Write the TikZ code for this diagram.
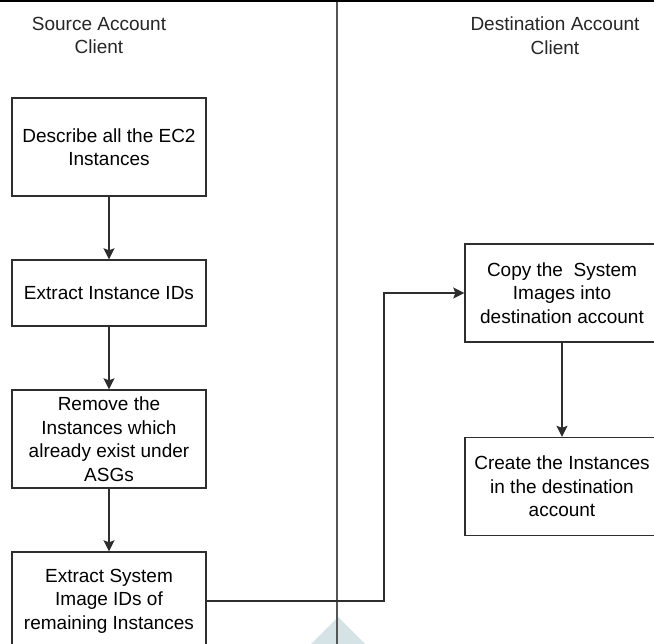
\documentclass[tikz,border=0pt]{standalone}
\usepackage{fontspec}
\setmainfont{Liberation Sans}
\usetikzlibrary{arrows.meta}
\definecolor{edge}{HTML}{2E2E2E}
\definecolor{divider}{HTML}{555555}
\definecolor{emblemtint}{HTML}{D6E3E6}
\tikzset{
  stepbox/.style={draw=edge, line width=1.4pt, rectangle, fill=white,
    minimum width=194pt, minimum height=98pt, align=center,
    font=\fontsize{19}{23.5}\selectfont, inner sep=0pt},
  shortbox/.style={stepbox, minimum height=66pt},
  title/.style={align=center, font=\fontsize{19}{23.5}\selectfont, text=black!85},
  flow/.style={draw=edge, line width=1.4pt,
    -{Stealth[length=11pt, width=11pt, inset=2pt]}},
  link/.style={draw=edge, line width=1.4pt}
}
\begin{document}
\begin{tikzpicture}[x=1pt, y=-1pt]
  \useasboundingbox (0,0) rectangle (654,644);
  \clip (0,0) rectangle (654,644);
  \fill[white] (0,0) rectangle (654,644);

  % faint emblem behind the lane divider
  \fill[emblemtint] (338,617) -- (380,659) -- (338,701) -- (296,659) -- cycle;

  % lane divider and top rule
  \coordinate (divtop) at (337,0);
  \coordinate (divbot) at (337,644);
  \draw[divider, line width=1.6pt] (divtop) -- (divbot);
  \coordinate (ruleL) at (0,0.8);
  \coordinate (ruleR) at (654,0.8);
  \draw[black, line width=2pt] (ruleL) -- (ruleR);

  % lane titles
  \node[title] (srctitle) at (99,35.5) {Source Account\\Client};
  \node[title] (dsttitle) at (555,35.5) {Destination Account\\Client};

  % source account steps
  \node[stepbox] (describe) at (109,147) {Describe all the EC2\\Instances};
  \node[shortbox] (extract) at (109,293) {Extract Instance IDs};
  \node[stepbox] (remove) at (109,439) {Remove the\\Instances which\\already exist under\\ASGs};
  \node[stepbox] (images) at (109,601) {Extract System\\Image IDs of\\remaining Instances};

  % destination account steps
  \node[stepbox] (copy) at (562,293) {Copy the~ System\\Images into\\destination account};
  \node[stepbox] (create) at (562,486.5) {Create the Instances\\in the destination\\account};

  % connectors
  \draw[flow] (describe) -- (extract);
  \draw[flow] (extract) -- (remove);
  \draw[flow] (remove) -- (images);
  \coordinate (bendA) at (384,601);
  \coordinate (bendB) at (384,293);
  \draw[flow] (images.east) -- (bendA) -- (bendB) -- (copy.west);
  \draw[flow] (copy) -- (create);
\end{tikzpicture}
\end{document}
